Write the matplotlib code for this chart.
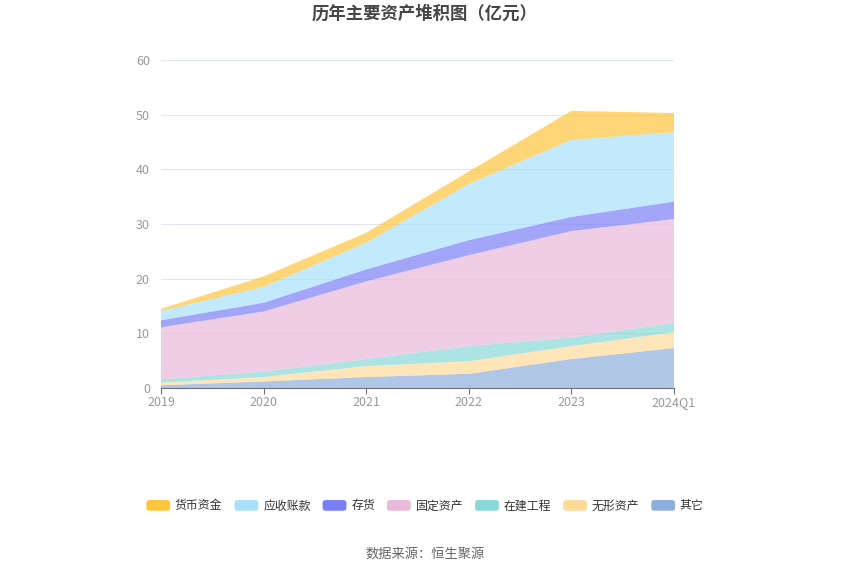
import matplotlib
matplotlib.use("Agg")
import matplotlib.pyplot as plt
from matplotlib.patches import Patch, FancyBboxPatch
from matplotlib.legend_handler import HandlerPatch
import numpy as np

plt.rcParams['font.family'] = ['Noto Sans CJK SC', 'DejaVu Sans']

categories = ['2019', '2020', '2021', '2022', '2023', '2024Q1']
series_names = ['货币资金', '应收账款', '存货', '固定资产', '在建工程', '无形资产', '其它']
cash = [0.4, 1.9, 1.8, 2.3, 5.3, 3.5]
receivables = [1.7, 2.9, 4.9, 10.25, 14.1, 12.7]
inventory = [1.3, 1.6, 2.2, 2.75, 2.6, 3.2]
fixed_assets = [9.5, 11.0, 14.2, 16.65, 19.45, 19.0]
construction = [0.6, 1.0, 1.3, 2.75, 1.6, 1.7]
intangible = [0.5, 0.8, 2.0, 2.3, 2.35, 2.9]
other = [0.5, 1.2, 2.0, 2.6, 5.3, 7.3]
y_ticks = [0, 10, 20, 30, 40, 50, 60]

colors = ['#FFC53D', '#A8E0FB', '#7B7FF6', '#E9B9D9', '#89D8D8', '#FFDA9B', '#8EAEDC']


class RoundHandler(HandlerPatch):
    def create_artists(self, legend, orig_handle, xdescent, ydescent, width, height, fontsize, trans):
        p = FancyBboxPatch((-xdescent, -ydescent), width, height,
                           boxstyle="round,pad=0,rounding_size=%f" % (height * 0.3),
                           facecolor=orig_handle.get_facecolor(), edgecolor='none',
                           transform=trans)
        return [p]


fig = plt.figure(figsize=(8.5, 5.75), dpi=100)
ax = fig.add_axes([161/850, 1-388/575, (674-161)/850, (388-60)/575])

x = np.arange(len(categories))
stack_data = [other, intangible, construction, fixed_assets, inventory, receivables, cash]
stack_colors = colors[::-1]
ax.stackplot(x, *stack_data, colors=stack_colors, alpha=0.7, linewidth=0)

ax.set_xlim(0, len(categories)-1)
ax.set_ylim(0, 60)
ax.set_yticks(y_ticks)
ax.set_xticks(x)
ax.set_xticklabels(categories)
ax.grid(axis='y', color='#E0E6F1', linewidth=0.8)
ax.set_axisbelow(True)
for s in ['top', 'right', 'left']:
    ax.spines[s].set_visible(False)
ax.spines['bottom'].set_color('#6E7079')
ax.tick_params(axis='y', length=0, colors='#999999', labelsize=9, pad=8)
ax.tick_params(axis='x', length=4, color='#6E7079', colors='#999999', labelsize=9, pad=2)

fig.text(0.5, 1-14/575, '历年主要资产堆积图（亿元）', ha='center', va='center',
         fontsize=12.5, fontweight='bold', color='#464646')

handles = [Patch(facecolor=c, edgecolor='none') for c in colors]
leg = fig.legend(handles, series_names, loc='center', bbox_to_anchor=(0.5, 1-506/575),
                 ncol=7, frameon=False, fontsize=8.6, handlelength=2.0, handleheight=1.0,
                 columnspacing=1.0, handletextpad=0.4, labelcolor='#333333',
                 handler_map={Patch: RoundHandler()})

fig.text(0.5, 1-554/575, '数据来源：恒生聚源', ha='center', va='center',
         fontsize=9.5, color='#666666')

fig.savefig('out.png', dpi=100)
